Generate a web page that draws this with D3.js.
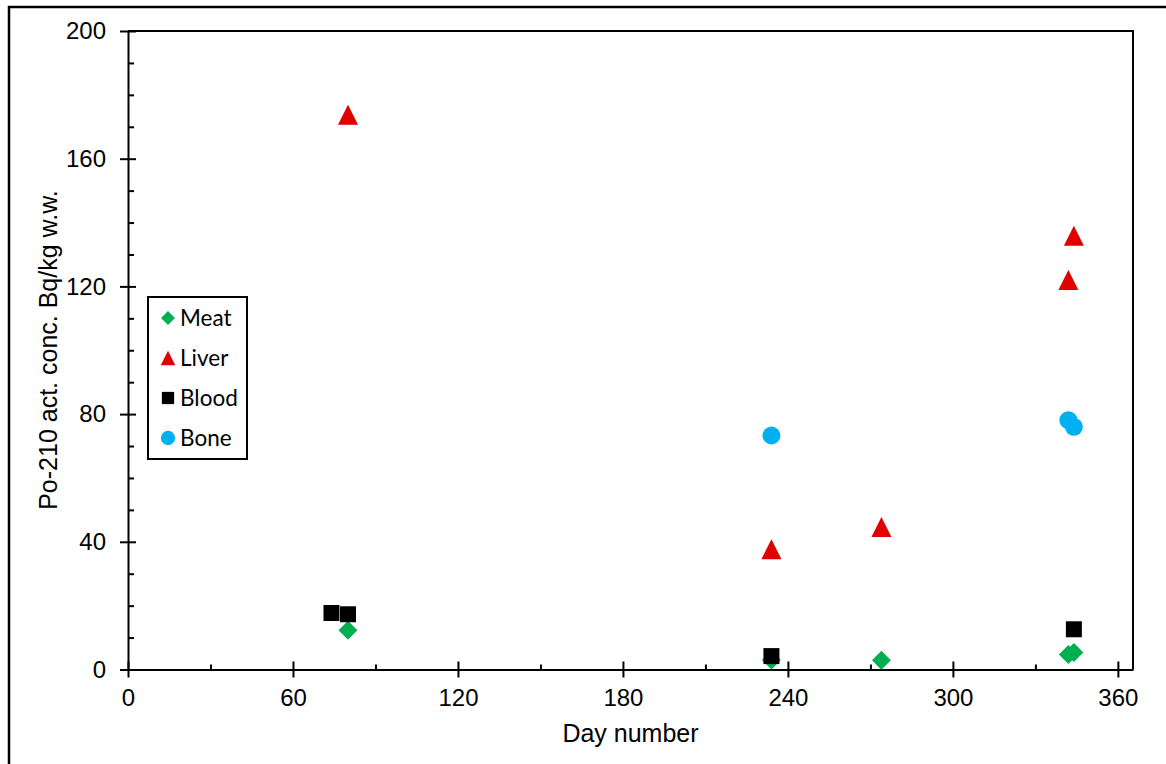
<!DOCTYPE html>
<html>
<head>
<meta charset="utf-8">
<script src="https://cdn.jsdelivr.net/npm/d3@7"></script>
<style>
  body { margin: 0; background: #fff; }
  svg { display: block; }
</style>
</head>
<body>
<div id="chart"></div>
<script>
// values
const seriesNames = ['Meat', 'Liver', 'Blood', 'Bone'];
const meatDays = [80, 234, 274, 342, 344];
const meatValues = [12.3, 3.0, 2.9, 4.7, 5.3];
const liverDays = [80, 234, 274, 342, 344];
const liverValues = [173.8, 37.7, 44.6, 122.0, 135.9];
const bloodDays = [74, 80, 234, 344];
const bloodValues = [17.7, 17.3, 4.2, 12.6];
const boneDays = [234, 342, 344];
const boneValues = [73.3, 78.1, 76.0];
const xTicks = [0, 60, 120, 180, 240, 300, 360];
const xMinor = [30, 90, 150, 210, 270, 330];
const yTicks = [0, 40, 80, 120, 160, 200];
const yMinor = [10, 20, 30, 50, 60, 70, 90, 100, 110, 130, 140, 150, 170, 180, 190];

const W = 1166, H = 764;
const svg = d3.select('#chart').append('svg')
  .attr('width', W)
  .attr('height', H);

// outer frame (runs off the right and bottom edge)
svg.append('rect')
  .attr('x', 9).attr('y', 7)
  .attr('width', 1200).attr('height', 800)
  .attr('fill', 'none')
  .attr('stroke', '#000')
  .attr('stroke-width', 2.5);

const plotL = 128, plotR = 1133, plotT = 31, plotB = 669.5;
const x = d3.scaleLinear().domain([0, 365.5]).range([plotL, plotR]);
const y = d3.scaleLinear().domain([0, 200]).range([plotB, plotT]);

const tickFont = '"Liberation Sans", Arial, sans-serif';

// plot box top and right
svg.append('path')
  .attr('d', `M${plotL},${plotT}H${plotR}V${plotB}`)
  .attr('fill', 'none')
  .attr('stroke', '#000')
  .attr('stroke-width', 2);

// x axis
const xAxis = svg.append('g')
  .attr('transform', `translate(0,${plotB})`)
  .call(d3.axisBottom(x).tickValues(xTicks).tickSize(8).tickPadding(11).tickSizeOuter(0));
xAxis.selectAll('.tick line').attr('y1', -8);
svg.append('g')
  .attr('transform', `translate(0,${plotB})`)
  .call(d3.axisBottom(x).tickValues(xMinor).tickSize(-5).tickFormat('').tickSizeOuter(0))
  .select('.domain').remove();

// y axis
const yAxis = svg.append('g')
  .attr('transform', `translate(${plotL},0)`)
  .call(d3.axisLeft(y).tickValues(yTicks).tickSize(8).tickPadding(14).tickSizeOuter(0));
yAxis.selectAll('.tick line').attr('x1', 8);
svg.append('g')
  .attr('transform', `translate(${plotL},0)`)
  .call(d3.axisLeft(y).tickValues(yMinor).tickSize(-6).tickFormat('').tickSizeOuter(0))
  .select('.domain').remove();

svg.selectAll('.domain, .tick line')
  .attr('stroke', '#000')
  .attr('stroke-width', 2);
svg.selectAll('.tick text')
  .attr('fill', '#000')
  .style('font-family', tickFont)
  .style('font-size', '24px');

// axis titles
svg.append('text')
  .attr('x', (plotL + plotR) / 2)
  .attr('y', 742)
  .attr('text-anchor', 'middle')
  .style('font-family', tickFont)
  .style('font-size', '25px')
  .text('Day number');

svg.append('text')
  .attr('transform', 'translate(57,350) rotate(-90)')
  .attr('text-anchor', 'middle')
  .style('font-family', tickFont)
  .style('font-size', '25px')
  .text('Po-210 act. conc. Bq/kg w.w.');

// triangle centred on its bounding box, like the spreadsheet marker
const boxTriangle = {
  draw(ctx, size) {
    const h = Math.sqrt(size) / 2;
    ctx.moveTo(0, -h);
    ctx.lineTo(h, h);
    ctx.lineTo(-h, h);
    ctx.closePath();
  }
};

const series = [
  { name: 'Meat', days: meatDays, values: meatValues, color: '#00b050', type: d3.symbolSquare, size: 180, rot: 45, legendSize: 95 },
  { name: 'Liver', days: liverDays, values: liverValues, color: '#e00000', type: boxTriangle, size: 400, rot: 0, legendSize: 210 },
  { name: 'Blood', days: bloodDays, values: bloodValues, color: '#000000', type: d3.symbolSquare, size: 256, rot: 0, legendSize: 150 },
  { name: 'Bone', days: boneDays, values: boneValues, color: '#00b0f0', type: d3.symbolCircle, size: 254, rot: 0, legendSize: 160 }
];

series.forEach(s => {
  const pts = s.days.map((d, i) => ({ day: d, value: s.values[i] }));
  svg.append('g').selectAll('path')
    .data(pts)
    .enter()
    .append('path')
    .attr('d', d3.symbol().type(s.type).size(s.size))
    .attr('transform', d => `translate(${x(d.day)},${y(d.value)}) rotate(${s.rot})`)
    .attr('fill', s.color);
});

// legend
const legend = svg.append('g');
legend.append('rect')
  .attr('x', 148).attr('y', 297)
  .attr('width', 99).attr('height', 162)
  .attr('fill', '#fff')
  .attr('stroke', '#000')
  .attr('stroke-width', 2);

const item = legend.selectAll('g.item')
  .data(series)
  .enter()
  .append('g')
  .attr('class', 'item')
  .attr('transform', (d, i) => `translate(168,${318 + i * 40})`);

item.append('path')
  .attr('d', d => d3.symbol().type(d.type).size(d.legendSize)())
  .attr('transform', d => `rotate(${d.rot})`)
  .attr('fill', d => d.color);

item.append('text')
  .attr('x', 12)
  .attr('dy', '0.35em')
  .style('font-family', 'Lato, "Open Sans", sans-serif')
  .style('font-size', '22.5px')
  .text(d => d.name);
</script>
</body>
</html>
